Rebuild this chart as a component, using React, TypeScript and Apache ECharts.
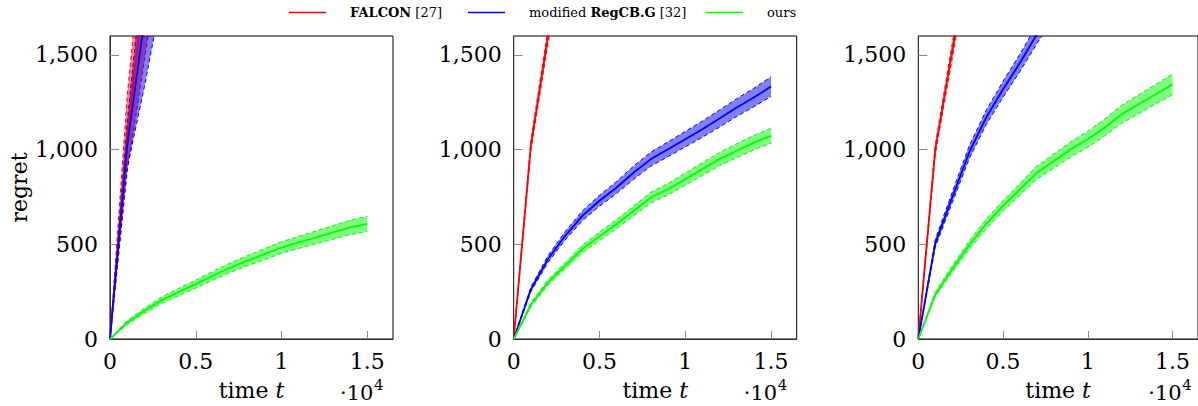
import React, { useEffect, useRef } from "react";
import * as echarts from "echarts";

// ---------- data ----------
const T = [0, 1000, 2000, 3000, 4000, 5000, 6000, 7000, 8000, 9000, 10000, 11000, 12000, 13000, 14000, 15000];

const NAMES = ["FALCON [27]", "modified RegCB.G [32]", "ours"];

// panel 1
const P1_FALCON_MEAN = [0, 1080, 1840, 2600];
const P1_FALCON_STD = [0, 200, 370, 520];
const P1_REGCB_MEAN = [0, 1020, 1680, 2300];
const P1_REGCB_STD = [0, 120, 350, 500];
const P1_OURS_MEAN = [0, 86, 149, 204, 248, 290, 334, 376, 413, 448, 483, 510, 536, 563, 589, 608];
const P1_OURS_STD = [0, 10, 14, 17, 19, 21, 23, 25, 27, 29, 30, 32, 34, 36, 38, 40];

// panel 2
const P2_FALCON_MEAN = [0, 1020, 1600, 2150];
const P2_FALCON_STD = [0, 25, 40, 55];
const P2_REGCB_MEAN = [0, 262, 422, 545, 650, 730, 800, 879, 950, 1002, 1055, 1108, 1164, 1222, 1275, 1333];
const P2_REGCB_STD = [0, 12, 18, 22, 26, 29, 32, 35, 37, 39, 41, 43, 45, 47, 49, 52];
const P2_OURS_MEAN = [0, 180, 299, 387, 475, 542, 607, 677, 747, 791, 844, 897, 950, 994, 1037, 1073];
const P2_OURS_STD = [0, 10, 14, 17, 20, 22, 24, 26, 28, 30, 32, 34, 35, 37, 38, 40];

// panel 3
const P3_FALCON_MEAN = [0, 1000, 1520, 2050];
const P3_FALCON_STD = [0, 25, 40, 55];
const P3_REGCB_MEAN = [0, 505, 747, 985, 1169, 1319, 1459, 1610, 1750];
const P3_REGCB_STD = [0, 20, 28, 34, 38, 42, 46, 50, 54];
const P3_OURS_MEAN = [0, 235, 369, 495, 607, 703, 791, 879, 940, 1002, 1055, 1117, 1187, 1240, 1292, 1345];
const P3_OURS_STD = [0, 12, 17, 21, 25, 28, 31, 34, 37, 40, 42, 45, 47, 50, 52, 55];

const X_TICKS = [5000, 10000, 15000];
const X_LABELS = [0, 5000, 10000, 15000];
const Y_TICKS = [500, 1000, 1500];
const Y_LABELS = [0, 500, 1000, 1500];

// ---------- layout / style ----------
const COLORS = ["#ff0000", "#0000ff", "#00ff00"];
const FILLS = ["rgba(255,0,0,0.5)", "rgba(0,0,255,0.5)", "rgba(0,255,0,0.5)"];
const GRID_LEFT = [110, 513.7, 918.3];
const GRID_TOP = 36;
const GRID_W = 283;
const GRID_H = 304;
const X_MAX = 16500;
const Y_MAX = 1600;
const FONT = "DejaVu Serif";
const FS = 22;

const PANELS = [
  [
    [P1_FALCON_MEAN, P1_FALCON_STD],
    [P1_REGCB_MEAN, P1_REGCB_STD],
    [P1_OURS_MEAN, P1_OURS_STD],
  ],
  [
    [P2_FALCON_MEAN, P2_FALCON_STD],
    [P2_REGCB_MEAN, P2_REGCB_STD],
    [P2_OURS_MEAN, P2_OURS_STD],
  ],
  [
    [P3_FALCON_MEAN, P3_FALCON_STD],
    [P3_REGCB_MEAN, P3_REGCB_STD],
    [P3_OURS_MEAN, P3_OURS_STD],
  ],
];

function buildOption() {
  const grid: any[] = [];
  const xAxis: any[] = [];
  const yAxis: any[] = [];
  const series: any[] = [];
  const graphic: any[] = [];

  PANELS.forEach((panel, p) => {
    grid.push({
      left: GRID_LEFT[p],
      top: GRID_TOP,
      width: GRID_W,
      height: GRID_H,
      show: true,
      borderColor: "#000",
      borderWidth: 1,
      backgroundColor: "transparent",
    });
    xAxis.push({
      type: "value",
      gridIndex: p,
      min: 0,
      max: X_MAX,
      name: "time {i|t}",
      nameLocation: "middle",
      nameGap: 40,
      nameTextStyle: {
        fontFamily: FONT,
        fontSize: FS,
        color: "#000",
        rich: { i: { fontFamily: FONT, fontSize: FS, fontStyle: "italic", color: "#000" } },
      },
      axisLine: { show: true, onZero: false, lineStyle: { color: "#333", width: 1 } },
      axisTick: { show: true, inside: true, length: 8, customValues: X_TICKS, lineStyle: { color: "#888", width: 1 } },
      axisLabel: {
        customValues: X_LABELS,
        formatter: (v: number) => String(v / 10000),
        margin: 11,
        fontFamily: FONT,
        fontSize: FS,
        color: "#000",
      },
      splitLine: { show: false },
    });
    yAxis.push({
      type: "value",
      gridIndex: p,
      min: 0,
      max: Y_MAX,
      name: p === 0 ? "regret" : "",
      nameLocation: "middle",
      nameGap: 80,
      nameRotate: 90,
      nameTextStyle: { fontFamily: FONT, fontSize: FS, color: "#000" },
      axisLine: { show: true, onZero: false, lineStyle: { color: "#333", width: 1 } },
      axisTick: { show: true, inside: true, length: 9, customValues: Y_TICKS, lineStyle: { color: "#888", width: 1 } },
      axisLabel: {
        customValues: Y_LABELS,
        formatter: (v: number) => v.toLocaleString("en-US"),
        margin: 12,
        fontFamily: FONT,
        fontSize: FS,
        color: "#000",
      },
      splitLine: { show: false },
    });

    panel.forEach(([mean, std], k) => {
      const rows = mean.map((m, i) => [T[i], m, std[i]]);
      series.push({
        type: "custom",
        name: NAMES[k] + " band " + p,
        xAxisIndex: p,
        yAxisIndex: p,
        clip: true,
        silent: true,
        dimensions: ["t", "mean", "std"],
        encode: { x: 0, y: 1 },
        data: rows,
        renderItem: (params: any, api: any) => {
          if (params.dataIndexInside !== 0) return null;
          const n = params.dataInsideLength;
          const up: number[][] = [];
          const lo: number[][] = [];
          for (let i = 0; i < n; i++) {
            const t = api.value(0, i);
            const m = api.value(1, i);
            const s = api.value(2, i);
            up.push(api.coord([t, m + s]));
            lo.push(api.coord([t, m - s]));
          }
          return {
            type: "group",
            children: [
              {
                type: "polygon",
                shape: { points: up.concat(lo.slice().reverse()) },
                style: { fill: FILLS[k], stroke: null },
              },
              {
                type: "polyline",
                shape: { points: up },
                style: { fill: null, stroke: COLORS[k], lineWidth: 1, lineDash: [4, 3] },
              },
              {
                type: "polyline",
                shape: { points: lo },
                style: { fill: null, stroke: COLORS[k], lineWidth: 1, lineDash: [4, 3] },
              },
            ],
          };
        },
      });
      series.push({
        type: "line",
        name: NAMES[k],
        xAxisIndex: p,
        yAxisIndex: p,
        data: mean.map((m, i) => [T[i], m]),
        symbol: "none",
        clip: true,
        color: COLORS[k],
        lineStyle: { color: COLORS[k], width: 1.8 },
      });
    });

    const right = GRID_LEFT[p] + GRID_W;
    graphic.push({
      type: "text",
      left: right - 53,
      top: 382,
      style: { text: "·10", font: `21px "${FONT}"`, lineHeight: 22, fill: "#000" },
    });
    graphic.push({
      type: "text",
      left: right - 19,
      top: 377,
      style: { text: "4", font: `15px "${FONT}"`, lineHeight: 16, fill: "#000" },
    });
  });

  const legendRich = {
    s: { width: 19 },
    b: { fontFamily: FONT, fontSize: 13, fontWeight: "bold", color: "#000" },
    n: { fontFamily: FONT, fontSize: 13, color: "#000" },
  };
  const legendBase = {
    top: 6,
    padding: 0,
    itemWidth: 37,
    itemHeight: 1.5,
    icon: "rect",
    selectedMode: false,
    textStyle: { fontFamily: FONT, fontSize: 13, color: "#000", rich: legendRich },
  };
  const legend = [
    { ...legendBase, left: 289, data: [NAMES[0]], formatter: () => "{s|}{b|FALCON}{n| [27]}" },
    { ...legendBase, left: 468, data: [NAMES[1]], formatter: () => "{s|}{n|modified }{b|RegCB.G}{n| [32]}" },
    { ...legendBase, left: 706, data: [NAMES[2]], formatter: () => "{s|}{n|ours}" },
  ];

  return {
    animation: false,
    backgroundColor: "#fff",
    grid,
    xAxis,
    yAxis,
    legend,
    series,
    graphic,
  };
}

export default function App() {
  const ref = useRef<HTMLDivElement>(null);
  useEffect(() => {
    if (!ref.current) return;
    const chart = echarts.init(ref.current, null, { renderer: "svg" });
    chart.setOption(buildOption() as any);
    return () => chart.dispose();
  }, []);
  return (
    <div
      ref={ref}
      style={{ position: "absolute", left: 0, top: 0, width: 1198, height: 406 }}
    />
  );
}
